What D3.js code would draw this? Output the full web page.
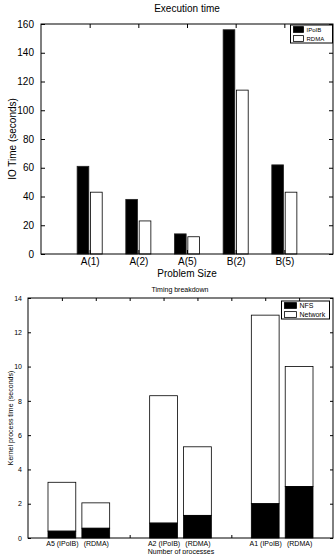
<!DOCTYPE html>
<html>
<head>
<meta charset="utf-8">
<script src="https://cdn.jsdelivr.net/npm/d3@7"></script>
<style>
  body { margin: 0; background: #fff; }
  svg { display: block; font-family: "Liberation Sans", Arial, sans-serif; }
  svg text { font-family: "Liberation Sans", Arial, sans-serif; }
  .domain { display: none; }
</style>
</head>
<body>
<svg id="chart" width="334" height="554"></svg>
<script>
// top chart: execution time
const problems   = ['A(1)', 'A(2)', 'A(5)', 'B(2)', 'B(5)'];
const ipoibTimes = [61, 38, 14, 156, 62];
const rdmaTimes  = [43, 23, 12, 114, 43];
const ioTicks    = [0, 20, 40, 60, 80, 100, 120, 140, 160];

// bottom chart: timing breakdown (stacked NFS + Network)
const runLabels  = ['A5 (IPoIB)', '(RDMA)', 'A2 (IPoIB)', '(RDMA)', 'A1 (IPoIB)', '(RDMA)'];
const runSlots   = [1, 2, 4, 5, 7, 8];
const nfsTimes   = [0.4, 0.57, 0.87, 1.32, 2.0, 3.0];
const totalTimes = [3.25, 2.05, 8.3, 5.32, 13.0, 10.0];
const kernTicks  = [0, 2, 4, 6, 8, 10, 12, 14];

const svg = d3.select('#chart');

// frame with inward ticks on all four sides, MATLAB style
function frame(g, x, y, xTicks, yTicks, fs, tick) {
  const [x0, x1] = x.range(), [y0, y1] = y.range();
  g.append('rect')
    .attr('x', x0).attr('y', y1).attr('width', x1 - x0).attr('height', y0 - y1)
    .attr('fill', 'none').attr('stroke', '#000').attr('stroke-width', 1);

  g.append('g').attr('transform', `translate(${x0},0)`)
    .call(d3.axisLeft(y).tickValues(yTicks).tickSize(-tick).tickPadding(tick + 3))
    .attr('font-family', null)
    .call(a => a.selectAll('text').style('font-size', fs + 'px').attr('fill', '#000'));
  g.append('g').attr('transform', `translate(${x1},0)`)
    .call(d3.axisRight(y).tickValues(yTicks).tickSize(-tick).tickFormat(''));
  g.append('g').attr('transform', `translate(0,${y1})`)
    .call(d3.axisTop(x).tickValues(xTicks).tickSize(-tick).tickFormat(''));
  g.append('g').attr('transform', `translate(0,${y0})`)
    .call(d3.axisBottom(x).tickValues(xTicks).tickSize(-tick).tickFormat(''));
}

function legend(g, x, y, w, h, items, fs, sw) {
  g.append('rect').attr('x', x).attr('y', y).attr('width', w).attr('height', h)
    .attr('fill', '#fff').attr('stroke', '#000').attr('stroke-width', 1);
  const rowH = h / items.length;
  items.forEach((it, i) => {
    const cy = y + rowH * (i + 0.5);
    g.append('rect').attr('x', x + 3).attr('y', cy - rowH * 0.32)
      .attr('width', sw).attr('height', rowH * 0.64)
      .attr('fill', it.fill).attr('stroke', '#000').attr('stroke-width', 0.8);
    g.append('text').attr('x', x + sw + 6).attr('y', cy)
      .attr('dy', '0.35em').style('font-size', fs + 'px').text(it.name);
  });
}

// ---------- top chart ----------
const execG = svg.append('g');
const xExec = d3.scaleLinear().domain([0, 6]).range([41, 333]);
const yExec = d3.scaleLinear().domain([0, 160]).range([254, 24]);
const barW = 0.24, gap = 0.035;

problems.forEach((p, i) => {
  const c = i + 1;
  execG.append('rect')
    .attr('x', xExec(c - gap / 2 - barW)).attr('y', yExec(ipoibTimes[i]))
    .attr('width', xExec(barW) - xExec(0)).attr('height', yExec(0) - yExec(ipoibTimes[i]))
    .attr('fill', '#000').attr('stroke', '#222').attr('stroke-width', 0.8);
  execG.append('rect')
    .attr('x', xExec(c + gap / 2)).attr('y', yExec(rdmaTimes[i]))
    .attr('width', xExec(barW) - xExec(0)).attr('height', yExec(0) - yExec(rdmaTimes[i]))
    .attr('fill', '#fff').attr('stroke', '#000').attr('stroke-width', 0.8);
});

frame(execG, xExec, yExec, [1, 2, 3, 4, 5], ioTicks, 10, 4);

execG.append('g').attr('transform', 'translate(0,254)')
  .call(d3.axisBottom(xExec).tickValues([1, 2, 3, 4, 5]).tickSize(0).tickPadding(4)
    .tickFormat(d => problems[d - 1]))
  .attr('font-family', null)
  .call(a => a.selectAll('text').style('font-size', '10px').attr('fill', '#000'));

execG.append('text').attr('x', 187).attr('y', 12).attr('text-anchor', 'middle')
  .style('font-size', '10px').text('Execution time');
execG.append('text').attr('x', 187).attr('y', 277).attr('text-anchor', 'middle')
  .style('font-size', '10px').text('Problem Size');
execG.append('text').attr('transform', 'translate(16,139) rotate(-90)')
  .attr('text-anchor', 'middle').style('font-size', '10px').text('IO Time (seconds)');

legend(execG, 290.5, 25, 42, 18, [{ name: 'IPoIB', fill: '#000' }, { name: 'RDMA', fill: '#fff' }], 6, 10);

// ---------- bottom chart ----------
const breakG = svg.append('g');
const xBreak = d3.scaleLinear().domain([0, 9]).range([28, 333]);
const yBreak = d3.scaleLinear().domain([0, 14]).range([538, 298]);
const stackW = 0.82;

runSlots.forEach((s, i) => {
  breakG.append('rect')
    .attr('x', xBreak(s - stackW / 2)).attr('y', yBreak(totalTimes[i]))
    .attr('width', xBreak(stackW) - xBreak(0)).attr('height', yBreak(nfsTimes[i]) - yBreak(totalTimes[i]))
    .attr('fill', '#fff').attr('stroke', '#000').attr('stroke-width', 0.8);
  breakG.append('rect')
    .attr('x', xBreak(s - stackW / 2)).attr('y', yBreak(nfsTimes[i]))
    .attr('width', xBreak(stackW) - xBreak(0)).attr('height', yBreak(0) - yBreak(nfsTimes[i]))
    .attr('fill', '#000').attr('stroke', '#000').attr('stroke-width', 0.8);
});

frame(breakG, xBreak, yBreak, [1, 2, 3, 4, 5, 6, 7, 8], kernTicks, 7, 3);

breakG.append('g').attr('transform', 'translate(0,538)')
  .call(d3.axisBottom(xBreak).tickValues(runSlots).tickSize(0).tickPadding(3)
    .tickFormat((d, i) => runLabels[i]))
  .attr('font-family', null)
  .call(a => a.selectAll('text').style('font-size', '7px').attr('fill', '#000'));

breakG.append('text').attr('x', 180).attr('y', 292).attr('text-anchor', 'middle')
  .style('font-size', '7px').text('Timing breakdown');
breakG.append('text').attr('x', 181).attr('y', 554).attr('text-anchor', 'middle')
  .style('font-size', '7px').text('Number of processes');
breakG.append('text').attr('transform', 'translate(13,418) rotate(-90)')
  .attr('text-anchor', 'middle').style('font-size', '7px').text('Kernel process time (seconds)');

legend(breakG, 281.5, 301, 48, 18, [{ name: 'NFS', fill: '#000' }, { name: 'Network', fill: '#fff' }], 7, 12);
</script>
</body>
</html>
